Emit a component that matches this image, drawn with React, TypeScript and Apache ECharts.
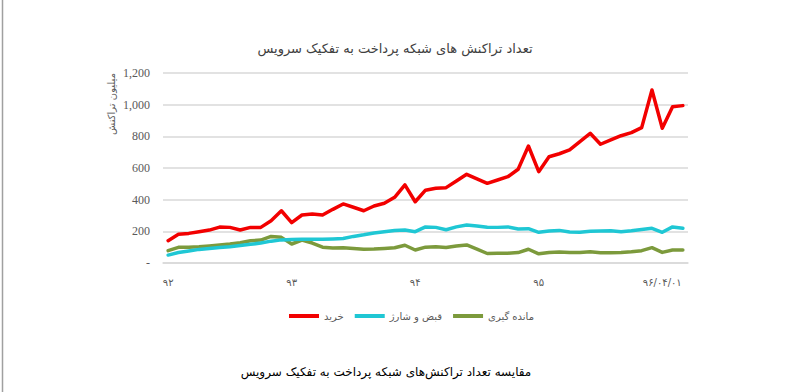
import React, { useEffect, useRef } from "react";
import * as echarts from "echarts";

const categories = [
  "92/01","92/02","92/03","92/04","92/05","92/06","92/07","92/08","92/09","92/10","92/11","92/12",
  "93/01","93/02","93/03","93/04","93/05","93/06","93/07","93/08","93/09","93/10","93/11","93/12",
  "94/01","94/02","94/03","94/04","94/05","94/06","94/07","94/08","94/09","94/10","94/11","94/12",
  "95/01","95/02","95/03","95/04","95/05","95/06","95/07","95/08","95/09","95/10","95/11","95/12",
  "96/01","96/02","96/03",
];

const tickLabels = ["۹۲", "۹۳", "۹۴", "۹۵", "۹۶/۰۴/۰۱"];

const kharid = [
  141, 181, 187, 198, 208, 227, 225, 208, 225, 225,
  267, 330, 255, 303, 309, 303, 339, 373, 352, 330,
  360, 377, 415, 493, 387, 460, 472, 476, 518, 560,
  531, 503, 524, 545, 592, 739, 577, 671, 690, 714,
  766, 819, 750, 777, 804, 823, 855, 1093, 851, 987, 994,
];

const ghabz = [
  50, 66, 76, 86, 92, 98, 102, 110, 118, 126,
  138, 146, 148, 150, 150, 150, 152, 155, 168, 178,
  190, 198, 205, 208, 198, 228, 225, 210, 228, 240,
  234, 226, 225, 228, 215, 217, 194, 202, 206, 196,
  194, 200, 202, 204, 198, 204, 212, 219, 194, 228, 220,
];

const mande = [
  78, 99, 100, 103, 108, 114, 120, 128, 140, 145,
  168, 162, 120, 145, 126, 100, 95, 96, 92, 87,
  88, 92, 96, 112, 82, 100, 103, 98, 108, 114,
  88, 60, 61, 62, 66, 87, 58, 67, 70, 67,
  67, 71, 65, 65, 67, 71, 78, 97, 67, 82, 82,
];

const seriesNames = ["خرید", "قبض و شارژ", "مانده گیری"];
const seriesColors = ["#F20000", "#1FC7D4", "#7C9A3C"];

const titleText = "تعداد تراکنش های شبکه پرداخت به تفکیک سرویس";
const yAxisTitle = "میلیون تراکنش";
const captionText = "مقایسه تعداد تراکنش‌های شبکه پرداخت به تفکیک سرویس";

const persianFont = "'DejaVu Sans', 'Noto Sans', sans-serif";
const numFont = "'Liberation Serif', 'DejaVu Serif', serif";

export default function App() {
  const ref = useRef<HTMLDivElement>(null);

  useEffect(() => {
    if (!ref.current) return;
    const chart = echarts.init(ref.current, undefined, { renderer: "svg" });
    const data = [kharid, ghabz, mande];
    chart.setOption({
      animation: false,
      backgroundColor: "#ffffff",
      title: {
        text: titleText,
        left: "center",
        top: 37,
        textStyle: {
          fontFamily: persianFont,
          fontSize: 13,
          fontWeight: "normal",
          color: "#404040",
        },
      },
      legend: {
        left: 284,
        top: 306,
        icon: "rect",
        itemWidth: 30,
        itemHeight: 4,
        itemGap: 11,
        textStyle: { fontFamily: persianFont, fontSize: 10, color: "#595959" },
        data: seriesNames,
      },
      grid: { left: 163, right: 102, top: 73, bottom: 129, containLabel: false },
      xAxis: {
        type: "category",
        data: categories,
        boundaryGap: true,
        axisLine: { show: true, lineStyle: { color: "#D9D9D9", width: 1.5 } },
        axisTick: { show: false },
        axisLabel: {
          interval: (i: number) => i % 12 === 0,
          formatter: (_v: string, i: number) => tickLabels[Math.floor(i / 12)] ?? "",
          margin: 14,
          fontFamily: persianFont,
          fontSize: 10,
          color: "#595959",
        },
        splitLine: { show: false },
      },
      yAxis: {
        type: "value",
        min: 0,
        max: 1200,
        interval: 200,
        axisLine: { show: false },
        axisTick: { show: false },
        axisLabel: {
          margin: 13,
          fontFamily: numFont,
          fontSize: 12,
          color: "#595959",
          formatter: (v: number) => (v === 0 ? "-" : v.toLocaleString("en-US")),
        },
        splitLine: { lineStyle: { color: "#D9D9D9", width: 1.5 } },
      },
      series: seriesNames.map((name, k) => ({
        name,
        type: "line",
        data: data[k],
        symbol: "none",
        lineStyle: { color: seriesColors[k], width: 3.5, cap: "round", join: "round" },
        itemStyle: { color: seriesColors[k] },
        z: 3 - k,
      })),
      graphic: [
        {
          type: "line",
          shape: { x1: 2.5, y1: 0, x2: 2.5, y2: 392 },
          style: { stroke: "#A0A0A0", lineWidth: 1.5 },
        },
        {
          type: "text",
          x: 111,
          y: 104,
          rotation: Math.PI / 2,
          style: {
            text: yAxisTitle,
            fontFamily: persianFont,
            fontSize: 10,
            fill: "#595959",
            align: "center",
            verticalAlign: "middle",
          },
        },
        {
          type: "text",
          x: 386,
          y: 372,
          style: {
            text: captionText,
            fontFamily: persianFont,
            fontSize: 12,
            fill: "#000000",
            align: "center",
            verticalAlign: "middle",
          },
        },
      ],
    });
    return () => chart.dispose();
  }, []);

  return (
    <div
      ref={ref}
      style={{ position: "fixed", left: 0, top: 0, width: 790, height: 392, background: "#fff" }}
    />
  );
}
